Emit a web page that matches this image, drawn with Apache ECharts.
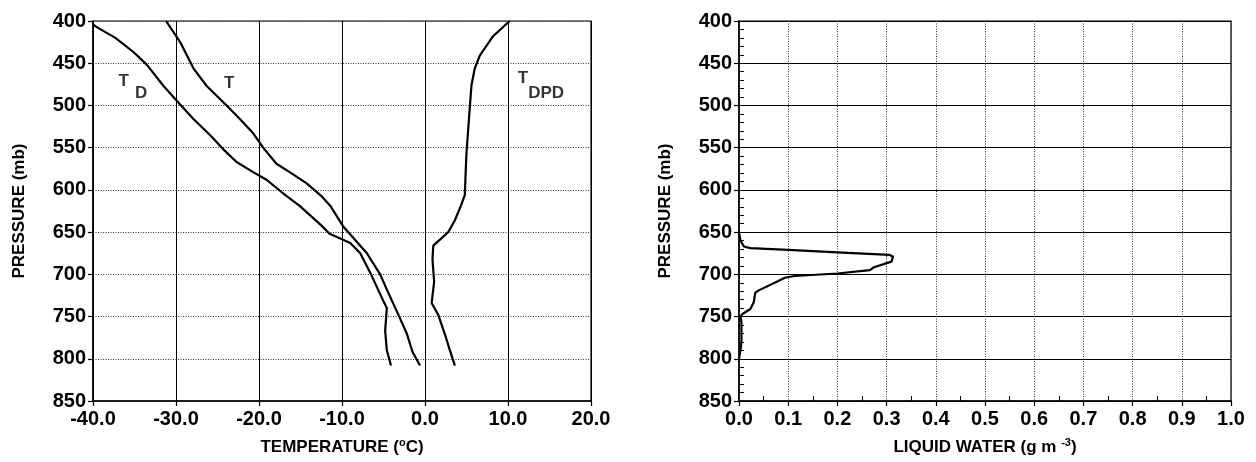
<!DOCTYPE html>
<html>
<head>
<meta charset="utf-8">
<script src="https://cdn.jsdelivr.net/npm/echarts@6/dist/echarts.min.js"></script>
<style>
html,body{margin:0;padding:0;background:#fff;}
#c{width:1256px;height:462px;}
</style>
</head>
<body>
<div id="c"></div>
<script>
// ---- data (temperature in °C / liquid water in g m-3, pressure in mb) ----
const tempT = [[-31.2,400],[-29.5,425],[-27.9,456],[-26.3,477],[-23.9,500],[-22.3,516],[-20.7,533],[-19.5,550],[-17.9,569],[-16.3,579],[-14.3,592],[-12.4,608],[-11.4,619],[-9.8,644],[-7.0,675],[-5.4,700],[-4.6,718],[-3.2,748],[-2.2,770],[-1.5,792],[-0.6,808]];
const dewTD = [[-40.0,404],[-39.6,407],[-37.3,420],[-35.1,437],[-33.5,452],[-31.5,477],[-29.5,499],[-27.9,516],[-25.9,535],[-24.3,552],[-22.7,567],[-20.7,579],[-19.1,588],[-17.1,604],[-15.1,619],[-12.5,642],[-11.5,652],[-9.0,663],[-7.8,675],[-6.6,698],[-5.0,732],[-4.6,740],[-4.8,767],[-4.6,790],[-4.1,808]];
const depTDPD = [[10.2,400],[8.2,418],[6.6,441],[6.0,456],[5.6,476],[5.4,502],[5.2,529],[5.0,556],[4.9,579],[4.8,606],[4.4,617],[3.6,636],[2.8,650],[1.0,666],[0.9,682],[1.1,709],[0.8,734],[1.6,748],[2.4,771],[3.0,790],[3.6,808]];
const liquidWater = [[0,650],[0.003,660],[0.01,667],[0.023,669],[0.1,671],[0.2,674],[0.306,677],[0.313,679],[0.31,685],[0.273,692],[0.266,695],[0.2,699],[0.113,702],[0.093,704],[0.08,708],[0.04,719],[0.033,722],[0.03,733],[0.023,741],[0.007,747],[0.003,750],[0.005,757],[0.005,780],[0.003,790],[0,800]];
// curve labels: [temperature, pressure, text]
const curveLabels = [[-36.3,471,'T'],[-34.2,486,'D'],[-23.6,474,'T'],[11.8,468,'T'],[14.6,486,'DPD']];
// axis ranges / names
const tempRange = [-40, 20, 10];
const lwRange = [0, 1, 0.1];
const presRange = [400, 850, 50];
const yName = 'PRESSURE (mb)';
const xNameLeft = 'TEMPERATURE ({sup|o}C)';
const xNameRight = 'LIQUID WATER (g m {sup|-3})';

const FONT = "'Liberation Sans', Arial, Helvetica, sans-serif";
const tickLabel = {fontFamily: FONT, fontWeight: 'bold', fontSize: 20, color: '#000'};
const nameStyle = {fontFamily: FONT, fontWeight: 'bold', fontSize: 17, color: '#000', lineHeight: 20,
  rich: {sup: {fontFamily: FONT, fontWeight: 'bold', fontSize: 11, color: '#000', verticalAlign: 'top', lineHeight: 11}}};

function yAxisCfg(grid, solidSplit, minor) {
  return {
    type: 'value', gridIndex: grid, inverse: true,
    min: presRange[0], max: presRange[1], interval: presRange[2],
    name: yName, nameLocation: 'middle', nameGap: 64, nameTextStyle: nameStyle,
    axisLine: {show: true, onZero: false, lineStyle: {color: '#000', width: 1.5}},
    axisTick: {show: true, length: 5, lineStyle: {color: '#000', width: 1.2}},
    minorTick: {show: minor, splitNumber: 5, length: -5, lineStyle: {color: '#000', width: 1}},
    axisLabel: Object.assign({margin: 7}, tickLabel),
    splitLine: {show: true, lineStyle: solidSplit ? {color: '#000', width: 1.2, type: 'solid'} : {color: '#333', width: 1, type: [1, 1.5]}}
  };
}
function xAxisCfg(grid, range, name, solidSplit, minor) {
  return {
    type: 'value', gridIndex: grid,
    min: range[0], max: range[1], interval: range[2],
    name: name, nameLocation: 'middle', nameGap: 36, nameTextStyle: nameStyle,
    axisLine: {show: true, onZero: false, lineStyle: {color: '#000', width: 1.5}},
    axisTick: {show: true, length: 5, lineStyle: {color: '#000', width: 1.2}},
    minorTick: {show: minor, splitNumber: 2, length: -5, lineStyle: {color: '#000', width: 1}},
    axisLabel: Object.assign({margin: 8, formatter: v => v.toFixed(1)}, tickLabel),
    splitLine: {show: true, lineStyle: solidSplit ? {color: '#000', width: 1, type: 'solid'} : {color: '#333', width: 1, type: [1, 1.5]}}
  };
}
const lineStyle = {color: '#000', width: 2.2};
function lineSeries(data, xi) {
  return {type: 'line', xAxisIndex: xi, yAxisIndex: xi, data: data, showSymbol: false, symbol: 'none',
    lineStyle: lineStyle, animation: false, silent: true, z: 5};
}

const chart = echarts.init(document.getElementById('c'), null, {renderer: 'canvas'});
chart.setOption({
  animation: false,
  backgroundColor: '#fff',
  grid: [
    {left: 93, top: 21, width: 498, height: 388, show: true, borderColor: '#000', borderWidth: 1.2, backgroundColor: 'transparent'},
    {left: 739, top: 21, width: 492, height: 388, show: true, borderColor: '#000', borderWidth: 1.2, backgroundColor: 'transparent'}
  ],
  xAxis: [
    xAxisCfg(0, tempRange, xNameLeft, true, false),
    xAxisCfg(1, lwRange, xNameRight, false, true)
  ],
  yAxis: [
    yAxisCfg(0, false, false),
    yAxisCfg(1, true, true)
  ],
  series: [
    lineSeries(tempT, 0),
    lineSeries(dewTD, 0),
    lineSeries(depTDPD, 0),
    lineSeries(liquidWater, 1),
    {
      type: 'scatter', xAxisIndex: 0, yAxisIndex: 0, data: curveLabels, symbolSize: 1,
      itemStyle: {color: 'rgba(0,0,0,0)'}, silent: true, animation: false, z: 6,
      label: {show: true, position: 'inside', formatter: p => p.data[2],
        fontFamily: FONT, fontWeight: 'bold', fontSize: 17, color: '#000'}
    }
  ]
});
</script>
</body>
</html>
